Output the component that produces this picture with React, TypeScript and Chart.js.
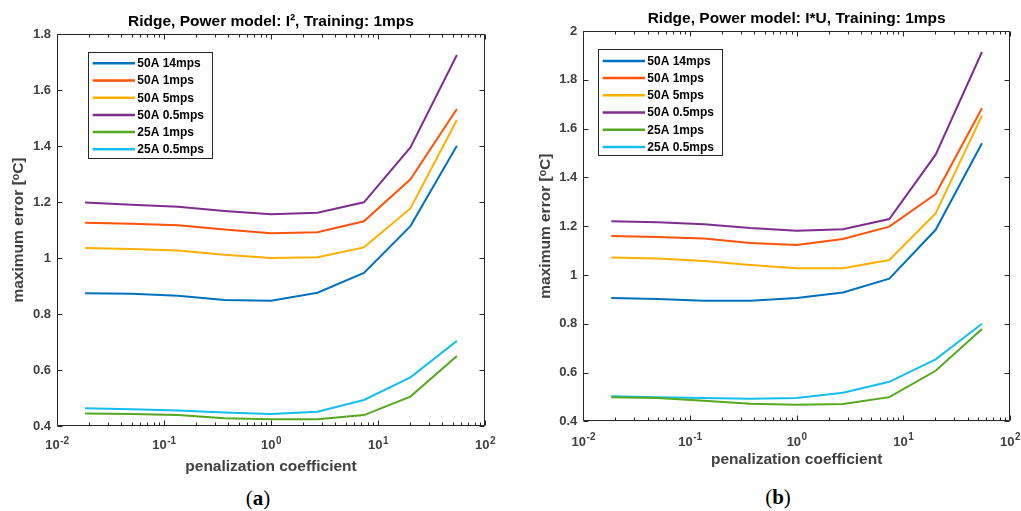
import React, { useEffect, useRef } from 'react';
import { Chart, registerables } from 'chart.js';

Chart.register(...registerables);

// ---------- data ----------
const penalty = [0.0183, 0.0498, 0.1353, 0.3679, 1, 2.718, 7.389, 20.09, 54.6];
const seriesLabels = ['50A 14mps', '50A 1mps', '50A 5mps', '50A 0.5mps', '25A 1mps', '25A 0.5mps'];
const seriesColors = ['#0072BD', '#FF5309', '#FFB000', '#7E2F8E', '#55A820', '#14BFEF'];

// panel (a): Power model I^2
const a50A14 = [0.874, 0.872, 0.865, 0.85, 0.847, 0.876, 0.947, 1.114, 1.401];
const a50A1 = [1.126, 1.122, 1.117, 1.102, 1.088, 1.092, 1.131, 1.281, 1.532];
const a50A5 = [1.036, 1.032, 1.027, 1.012, 1.0, 1.003, 1.038, 1.177, 1.493];
const a50A05 = [1.198, 1.19, 1.183, 1.168, 1.156, 1.162, 1.199, 1.395, 1.725];
const a25A1 = [0.445, 0.443, 0.439, 0.428, 0.424, 0.424, 0.439, 0.505, 0.65];
const a25A05 = [0.463, 0.46, 0.455, 0.448, 0.443, 0.451, 0.493, 0.574, 0.704];

// panel (b): Power model I*U
const b50A14 = [0.905, 0.901, 0.894, 0.894, 0.905, 0.928, 0.985, 1.185, 1.54];
const b50A1 = [1.16, 1.156, 1.149, 1.131, 1.123, 1.147, 1.198, 1.332, 1.683];
const b50A5 = [1.071, 1.067, 1.057, 1.041, 1.027, 1.027, 1.061, 1.252, 1.653];
const b50A05 = [1.22, 1.216, 1.208, 1.192, 1.181, 1.187, 1.229, 1.493, 1.914];
const b25A1 = [0.499, 0.496, 0.484, 0.472, 0.468, 0.471, 0.499, 0.607, 0.778];
const b25A05 = [0.503, 0.499, 0.496, 0.492, 0.496, 0.517, 0.562, 0.654, 0.8];

const xTickExponents = [-2, -1, 0, 1, 2];
const yTicksA = [0.4, 0.6, 0.8, 1.0, 1.2, 1.4, 1.6, 1.8];
const yTicksB = [0.4, 0.6, 0.8, 1.0, 1.2, 1.4, 1.6, 1.8, 2.0];

const titleA = 'Ridge, Power model: I\u00B2, Training: 1mps';
const titleB = 'Ridge, Power model: I*U, Training: 1mps';
const xTitle = 'penalization coefficient';
const yTitle = 'maximum error [\u1D52C]';

// ---------- helpers ----------
const FONT = '"Liberation Sans", Arial, Helvetica, sans-serif';
const AXIS_GRAY = '#404040';

type Geom = {
  left: number; width: number; height: number;
  areaLeft: number; areaRight: number; areaTop: number; areaBottom: number;
  titlePadTop: number; xTitlePadBottom: number; yTitlePadTop: number;
  legendX: number; legendY: number; xLabelBaseline: number;
};

const frameTicksPlugin = {
  id: 'frameTicks',
  afterDatasetsDraw(chart: any, _args: any, opts: any) {
    const { ctx, chartArea, scales } = chart;
    const { left, right, top, bottom } = chartArea;
    const xs = scales.x;
    const ys = scales.y;
    const L = Math.round(left) + 0.5;
    const R = Math.round(right) - 0.5;
    const T = Math.round(top) + 0.5;
    const B = Math.round(bottom) - 0.5;
    ctx.save();
    ctx.strokeStyle = '#262626';
    ctx.lineWidth = 1;
    ctx.beginPath();
    ctx.rect(L, T, R - L, B - T);
    const minE = xTickExponents[0];
    const maxE = xTickExponents[xTickExponents.length - 1];
    for (let e = minE; e <= maxE; e++) {
      for (let m = 1; m <= 9; m++) {
        if (e === maxE && m > 1) break;
        const v = m * Math.pow(10, e);
        const px = Math.round(xs.getPixelForValue(v)) + 0.5;
        const len = m === 1 ? 5 : 3;
        ctx.moveTo(px, B);
        ctx.lineTo(px, B - len);
        ctx.moveTo(px, T);
        ctx.lineTo(px, T + len);
      }
    }
    for (const t of ys.ticks) {
      const py = Math.round(ys.getPixelForValue(t.value)) + 0.5;
      ctx.moveTo(L, py);
      ctx.lineTo(L + 5, py);
      ctx.moveTo(R, py);
      ctx.lineTo(R - 5, py);
    }
    ctx.stroke();

    // x tick labels: 10 with raised exponent
    ctx.fillStyle = AXIS_GRAY;
    ctx.textBaseline = 'alphabetic';
    ctx.textAlign = 'left';
    const baseY = bottom + opts.baseline;
    for (const e of xTickExponents) {
      const px = xs.getPixelForValue(Math.pow(10, e));
      const base = '10';
      const exp = String(e);
      ctx.font = `bold 13px ${FONT}`;
      const w1 = ctx.measureText(base).width;
      ctx.font = `bold 10px ${FONT}`;
      const w2 = ctx.measureText(exp).width;
      const x0 = px - (w1 + w2) / 2;
      ctx.font = `bold 13px ${FONT}`;
      ctx.fillText(base, x0, baseY);
      ctx.font = `bold 10px ${FONT}`;
      ctx.fillText(exp, x0 + w1 + 0.5, baseY - 5.5);
    }
    ctx.restore();
  },
};

const boxLegendPlugin = {
  id: 'boxLegend',
  afterDraw(chart: any, _args: any, opts: any) {
    const { ctx } = chart;
    const x0 = opts.x;
    const y0 = opts.y;
    const w = 123.7;
    const rowH = 17.2;
    const ds = chart.data.datasets;
    const h = rowH * ds.length + 3;
    ctx.save();
    ctx.fillStyle = '#ffffff';
    ctx.fillRect(x0, y0, w, h);
    ctx.strokeStyle = '#262626';
    ctx.lineWidth = 1;
    ctx.strokeRect(Math.round(x0) + 0.5, Math.round(y0) + 0.5, Math.round(w), Math.round(h));
    ctx.font = `bold 12px ${FONT}`;
    ctx.textBaseline = 'middle';
    ctx.textAlign = 'left';
    ds.forEach((d: any, i: number) => {
      const cy = y0 + 11.6 + i * rowH;
      ctx.strokeStyle = d.borderColor;
      ctx.lineWidth = 2.5;
      ctx.beginPath();
      ctx.moveTo(x0 + 4.4, cy);
      ctx.lineTo(x0 + 46.7, cy);
      ctx.stroke();
      ctx.fillStyle = '#000000';
      ctx.fillText(d.label, x0 + 49, cy + 0.5);
    });
    ctx.restore();
  },
};

function Panel(props: { series: number[][]; title: string; yTicks: number[]; geom: Geom }) {
  const ref = useRef<HTMLCanvasElement | null>(null);
  const { series, title, yTicks, geom } = props;

  useEffect(() => {
    if (!ref.current) return;
    const titleSize = 15.5;
    const titleLine = titleSize * 1.2;
    const chart = new Chart(ref.current, {
      type: 'line',
      data: {
        datasets: series.map((vals, i) => ({
          label: seriesLabels[i],
          data: vals.map((v, j) => ({ x: penalty[j], y: v })),
          borderColor: seriesColors[i],
          backgroundColor: seriesColors[i],
          borderWidth: 2,
          pointRadius: 0,
          tension: 0,
          fill: false,
        })),
      },
      options: {
        animation: false,
        responsive: false,
        devicePixelRatio: 1,
        layout: { padding: { left: 0, right: geom.width - geom.areaRight, top: 0, bottom: 0 } },
        plugins: {
          legend: { display: false },
          tooltip: { enabled: false },
          title: {
            display: true,
            fullSize: false,
            text: title,
            color: '#000000',
            font: { family: FONT, size: titleSize, weight: 'bold' },
            padding: { top: geom.titlePadTop, bottom: geom.areaTop - titleLine - geom.titlePadTop },
          },
          boxLegend: { x: geom.legendX, y: geom.legendY },
          frameTicks: { baseline: geom.xLabelBaseline },
        } as any,
        scales: {
          x: {
            type: 'logarithmic',
            min: Math.pow(10, xTickExponents[0]),
            max: Math.pow(10, xTickExponents[xTickExponents.length - 1]),
            afterBuildTicks: (s: any) => {
              s.ticks = xTickExponents.map((e) => ({ value: Math.pow(10, e) }));
            },
            afterFit: (s: any) => {
              s.height = geom.height - geom.areaBottom;
            },
            grid: { display: false, drawTicks: false },
            border: { display: false },
            ticks: { display: false },
            title: {
              display: true,
              text: xTitle,
              color: AXIS_GRAY,
              font: { family: FONT, size: 15.5, weight: 'bold' },
              padding: { top: 0, bottom: geom.xTitlePadBottom },
            },
          },
          y: {
            type: 'linear',
            min: yTicks[0],
            max: yTicks[yTicks.length - 1],
            afterBuildTicks: (s: any) => {
              s.ticks = yTicks.map((v) => ({ value: v }));
            },
            afterFit: (s: any) => {
              s.width = geom.areaLeft;
            },
            grid: { display: false, drawTicks: false },
            border: { display: false },
            ticks: {
              padding: 6,
              color: AXIS_GRAY,
              font: { family: FONT, size: 13, weight: 'bold' },
              callback: (v: any) => String(Number(Number(v).toFixed(1))),
            },
            title: {
              display: true,
              text: yTitle,
              color: AXIS_GRAY,
              font: { family: FONT, size: 15.5, weight: 'bold' },
              padding: { top: geom.yTitlePadTop, bottom: 0 },
            },
          },
        },
      } as any,
      plugins: [frameTicksPlugin, boxLegendPlugin],
    });
    return () => chart.destroy();
  }, []);

  return (
    <canvas
      ref={ref}
      width={geom.width}
      height={geom.height}
      style={{ position: 'absolute', left: geom.left, top: 0, width: geom.width, height: geom.height }}
    />
  );
}

const geomA: Geom = {
  left: 0, width: 510, height: 480,
  areaLeft: 57, areaRight: 485, areaTop: 34, areaBottom: 426,
  titlePadTop: 12.7, xTitlePadBottom: 4, yTitlePadTop: 9.2,
  legendX: 88.3, legendY: 51.7, xLabelBaseline: 23.3,
};
const geomB: Geom = {
  left: 510, width: 511, height: 480,
  areaLeft: 73.3, areaRight: 500, areaTop: 31, areaBottom: 421.3,
  titlePadTop: 9.9, xTitlePadBottom: 10.7, yTitlePadTop: 26.7,
  legendX: 88.3, legendY: 49.3, xLabelBaseline: 24.5,
};

const captionStyle = (cx: number, cy: number): React.CSSProperties => ({
  position: 'absolute',
  left: cx,
  top: cy,
  transform: 'translate(-50%, -50%)',
  fontFamily: '"Liberation Serif", "DejaVu Serif", serif',
  fontSize: 21,
  lineHeight: 1,
  color: '#000',
  whiteSpace: 'nowrap',
});

export default function App() {
  return (
    <div style={{ position: 'absolute', left: 0, top: 0, width: 1021, height: 511, background: '#fff', overflow: 'hidden' }}>
      <Panel series={[a50A14, a50A1, a50A5, a50A05, a25A1, a25A05]} title={titleA} yTicks={yTicksA} geom={geomA} />
      <Panel series={[b50A14, b50A1, b50A5, b50A05, b25A1, b25A05]} title={titleB} yTicks={yTicksB} geom={geomB} />
      <div style={captionStyle(258, 498)}>(<b>a</b>)</div>
      <div style={captionStyle(778, 497)}>(<b>b</b>)</div>
    </div>
  );
}
